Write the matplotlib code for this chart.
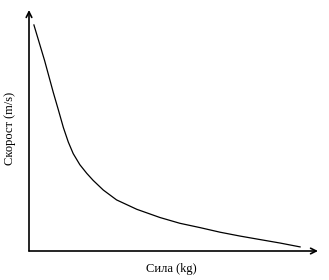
import matplotlib
matplotlib.use('Agg')
import matplotlib.pyplot as plt

# (arbitrary units, 0..10 on both axes)
sila = [0.17, 0.54, 0.84, 1.01, 1.19, 1.36, 1.53, 1.76, 2.00, 2.22, 2.57, 3.03,
        3.73, 4.53, 5.22, 5.92, 6.61, 7.30, 7.92, 8.69, 9.38]
skorost = [9.38, 7.90, 6.58, 5.88, 5.12, 4.52, 4.04, 3.58, 3.22, 2.93, 2.53, 2.12,
           1.73, 1.39, 1.15, 0.97, 0.78, 0.62, 0.49, 0.33, 0.17]

plt.rcParams['font.family'] = ['Liberation Serif', 'DejaVu Serif']

fig = plt.figure(figsize=(3.29, 2.8), dpi=100)
ax = fig.add_axes([29/329, 29/280, 289/329, 241/280])
ax.set_xlim(0, 10)
ax.set_ylim(0, 10)
for s in ax.spines.values():
    s.set_visible(False)
ax.set_xticks([]); ax.set_yticks([])

ax.plot(sila, skorost, color='black', linewidth=0.9, solid_joinstyle='round')

# axes with arrow heads
ax.annotate('', xy=(0, 1), xytext=(0, 0), xycoords='axes fraction',
            arrowprops=dict(arrowstyle='->', color='black', lw=1.2, shrinkA=0, shrinkB=0))
ax.annotate('', xy=(1, 0), xytext=(0, 0), xycoords='axes fraction',
            arrowprops=dict(arrowstyle='->', color='black', lw=1.2, shrinkA=0, shrinkB=0))

fig.text(171/329, 1 - 269/280, 'Сила (kg)', ha='center', va='center', fontsize=9)
fig.text(10/329, 1 - 128/280, 'Скорост (m/s)', ha='center', va='center', fontsize=9, rotation=90)

fig.savefig('out.png', dpi=100)
